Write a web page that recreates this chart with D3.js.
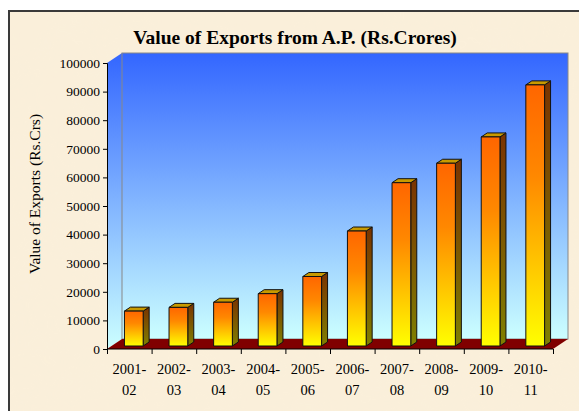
<!DOCTYPE html>
<html>
<head>
<meta charset="utf-8">
<script src="https://cdn.jsdelivr.net/npm/d3@7"></script>
<style>
  html, body { margin: 0; padding: 0; background: #fff; }
  svg { display: block; font-family: "Liberation Serif", "Times New Roman", serif; }
</style>
</head>
<body>
<svg id="chart" width="579" height="411"></svg>
<script>
// ── Data ──────────────────────────────────────────────────────────────────────
const years   = ['2001-02', '2002-03', '2003-04', '2004-05', '2005-06',
                 '2006-07', '2007-08', '2008-09', '2009-10', '2010-11'];
const exports = [12200, 13500, 15300, 18300, 24300, 40200, 57100, 63900, 73100, 91300];
const yTicks  = [0, 10000, 20000, 30000, 40000, 50000, 60000, 70000, 80000, 90000, 100000];

// ── Layout ────────────────────────────────────────────────────────────────────
const X0 = 107, X1 = 553;        // front plane, horizontal
const Y0 = 349, Y1 = 63;         // front plane, vertical
const DEPTH = { x: 15, y: 10 };  // 3D depth of walls
const BAR_FRONT = 0.3, BAR_BACK = 0.7;

const svg  = d3.select('#chart');
const defs = svg.append('defs');

// ── Gradients ─────────────────────────────────────────────────────────────────
function vGrad(id, stops) {
  const g = defs.append('linearGradient').attr('id', id)
    .attr('x1', 0).attr('y1', 0).attr('x2', 0).attr('y2', 1);
  stops.forEach(([o, c]) => g.append('stop').attr('offset', o).attr('stop-color', c));
}
vGrad('wall',  [[0, '#3366ff'], [1, '#ccffff']]);
vGrad('front', [[0, '#ff6600'], [0.35, '#ff8800'], [1, '#ffff00']]);
vGrad('side',  [[0, '#7a3300'], [1, '#808000']]);

const paper = defs.append('filter').attr('id', 'paper')
  .attr('x', 0).attr('y', 0).attr('width', '100%').attr('height', '100%');
paper.append('feTurbulence').attr('type', 'fractalNoise')
  .attr('baseFrequency', 0.025).attr('numOctaves', 3).attr('seed', 4);
paper.append('feColorMatrix').attr('type', 'matrix')
  .attr('values', '0 0 0 0 0.96  0 0 0 0 0.88  0 0 0 0 0.74  0 0 0 0.5 -0.15');

// ── Frame & background ───────────────────────────────────────────────────────
svg.append('rect').attr('x', 9).attr('y', 11).attr('width', 620).attr('height', 450)
  .attr('fill', '#faefda');
svg.append('rect').attr('x', 9).attr('y', 11).attr('width', 620).attr('height', 450)
  .attr('filter', 'url(#paper)').attr('opacity', 0.35);
svg.append('rect').attr('x', 9).attr('y', 11).attr('width', 620).attr('height', 450)
  .attr('fill', 'none').attr('stroke', '#3a3a3a').attr('stroke-width', 2);

// ── Scales ────────────────────────────────────────────────────────────────────
const y = d3.scaleLinear().domain([0, 100000]).range([Y0, Y1]);
const x = d3.scaleBand().domain(years).range([X0, X1])
  .paddingInner(0.58).paddingOuter(0.29);
const xEdge = d3.scaleLinear().domain([0, years.length]).range([X0, X1]);

// ── Walls ─────────────────────────────────────────────────────────────────────
const pts = a => a.map(p => p.join(',')).join(' ');
const dx = DEPTH.x, dy = DEPTH.y;

// left side wall
svg.append('polygon')
  .attr('points', pts([[X0, Y1], [X0 + dx, Y1 - dy], [X0 + dx, Y0 - dy], [X0, Y0]]))
  .attr('fill', 'url(#wall)');
// back wall
svg.append('rect')
  .attr('x', X0 + dx).attr('y', Y1 - dy)
  .attr('width', X1 - X0).attr('height', Y0 - Y1)
  .attr('fill', 'url(#wall)').attr('stroke', '#888').attr('stroke-width', 1);
// floor
svg.append('polygon')
  .attr('points', pts([[X0, Y0], [X0 + dx, Y0 - dy], [X1 + dx, Y0 - dy], [X1, Y0]]))
  .attr('fill', '#800000');

// ── Bars ──────────────────────────────────────────────────────────────────────
const fx = dx * BAR_FRONT, fy = dy * BAR_FRONT;
const bx = dx * (BAR_BACK - BAR_FRONT), by = dy * (BAR_BACK - BAR_FRONT);
const bw = x.bandwidth();

const bars = svg.append('g').selectAll('g.bar')
  .data(years.map((c, i) => ({ cat: c, value: exports[i] })))
  .join('g').attr('class', 'bar')
  .attr('stroke', '#111').attr('stroke-width', 1).attr('stroke-linejoin', 'round');

bars.append('polygon').attr('fill', 'url(#side)')
  .attr('points', d => {
    const l = x(d.cat) + fx + bw, t = y(d.value) - fy, b = Y0 - fy;
    return pts([[l, t], [l + bx, t - by], [l + bx, b - by], [l, b]]);
  });
bars.append('polygon').attr('fill', '#c89a00')
  .attr('points', d => {
    const l = x(d.cat) + fx, t = y(d.value) - fy;
    return pts([[l, t], [l + bx, t - by], [l + bw + bx, t - by], [l + bw, t]]);
  });
bars.append('rect').attr('fill', 'url(#front)')
  .attr('x', d => x(d.cat) + fx)
  .attr('y', d => y(d.value) - fy)
  .attr('width', bw)
  .attr('height', d => Y0 - y(d.value));

// ── Axes ──────────────────────────────────────────────────────────────────────
const yAxis = svg.append('g').attr('transform', `translate(${X0},0)`)
  .call(d3.axisLeft(y).tickValues(yTicks).tickSize(4).tickPadding(3)
    .tickFormat(d3.format('d')));
yAxis.selectAll('path, line').attr('stroke', '#000');
yAxis.selectAll('text').attr('font-size', 13.5).attr('fill', '#000')
  .attr('font-family', '"Liberation Serif", serif');

const xAxis = svg.append('g').attr('transform', `translate(0,${Y0})`)
  .call(d3.axisBottom(xEdge).tickValues(d3.range(years.length + 1))
    .tickSize(5).tickFormat(''));
xAxis.selectAll('path, line').attr('stroke', '#000');
xAxis.select('path').attr('d', `M${X0},0H${X1}`);

const xLabels = svg.append('g').selectAll('text')
  .data(years).join('text')
  .attr('text-anchor', 'middle').attr('font-size', 14.5).attr('fill', '#000')
  .attr('x', d => x(d) + bw / 2)
  .attr('y', 374);
xLabels.append('tspan').text(d => d.split('-')[0] + '-');
xLabels.append('tspan').attr('x', d => x(d) + bw / 2).attr('dy', 21)
  .text(d => d.split('-')[1]);

// ── Titles ────────────────────────────────────────────────────────────────────
svg.append('text')
  .attr('x', 295).attr('y', 44).attr('text-anchor', 'middle')
  .attr('font-size', 19.5).attr('font-weight', 'bold').attr('fill', '#000')
  .text('Value of Exports from A.P. (Rs.Crores)');

svg.append('text')
  .attr('transform', 'translate(40,194) rotate(-90)')
  .attr('text-anchor', 'middle').attr('font-size', 15.5).attr('fill', '#000')
  .text('Value of Exports (Rs.Crs)');
</script>
</body>
</html>
